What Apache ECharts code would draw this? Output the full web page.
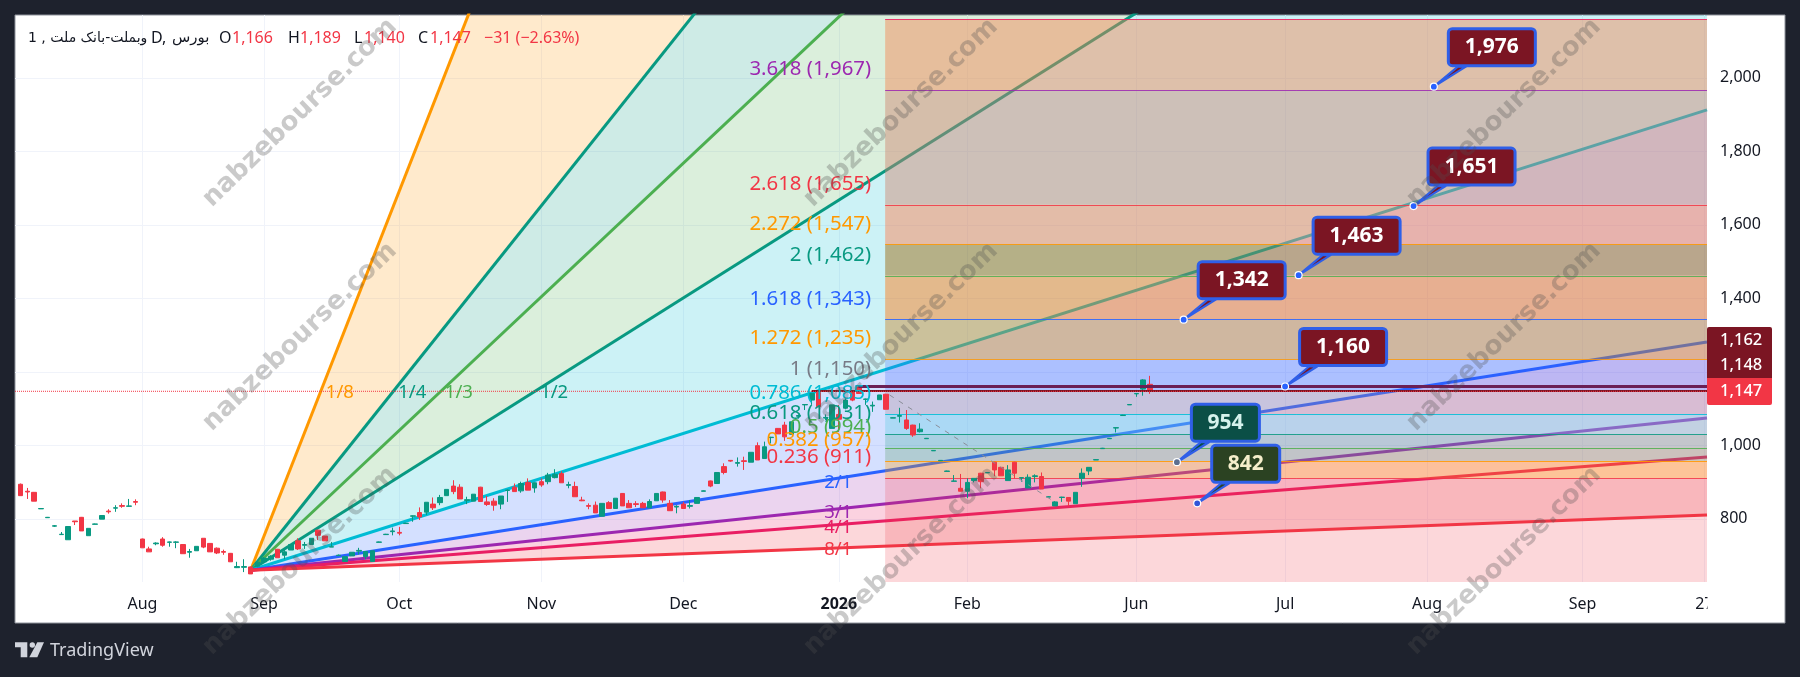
<!DOCTYPE html>
<html>
<head>
<meta charset="utf-8">
<title>وبملت-بانک ملت</title>
<style>html,body{margin:0;padding:0;background:#1e222d}#chart{width:1800px;height:677px}</style>
<script src="https://cdn.jsdelivr.net/npm/echarts@6/dist/echarts.min.js"></script>
</head>
<body>
<div id="chart"></div>
<script>
// Daily candles: open, close, low, high. The bar number is the position in this list.
const candles = [
[894,863,863,896],[875,873,854,884],[872,848,848,873],[827,828,827,829],[803,804,803,805],[780,781,778,783],
[757,758,756,764],[743,779,743,779],[794,792,783,794],[804,767,767,805],[754,774,754,774],[785,786,785,787],
[799,809,799,810],[821,819,814,826],[829,830,819,837],[836,834,830,842],[834,835,833,854],[847,845,837,853],
[745,721,721,746],[718,710,710,724],[732,734,728,736],[745,728,724,750],[736,737,724,738],[736,737,720,739],
[730,705,705,731],[709,711,694,718],[713,725,713,725],[747,723,720,747],[733,710,710,733],[720,707,704,722],
[711,709,702,716],[706,683,683,707],[667,670,666,683],[668,670,655,690],[669,650,650,670],[671,682,668,684],
[683,693,680,696],[690,698,686,701],[717,694,694,718],[701,710,690,718],[715,730,715,730],[740,718,715,747],
[728,730,718,737],[730,747,730,747],[769,755,742,770],[753,740,740,753],[723,724,723,737],[700,701,699,703],
[684,697,684,697],[699,709,699,709],[712,714,703,721],[697,711,690,711],[684,713,684,713],[736,737,736,738],
[757,758,757,759],[765,767,755,776],[763,761,755,778],[787,788,787,789],[807,808,792,809],[817,805,797,831],
[818,845,810,845],[840,830,824,858],[844,858,837,865],[863,880,863,880],[889,874,867,905],[886,854,854,894],
[850,852,840,860],[848,867,848,867],[886,847,847,887],[846,839,835,862],[848,837,822,856],[840,862,826,862],
[877,878,846,880],[886,874,874,896],[876,896,871,901],[899,878,878,910],[884,898,871,899],[901,892,887,910],
[901,919,894,925],[912,921,910,935],[923,898,898,929],[891,893,883,901],[888,860,860,901],[851,849,848,860],
[836,834,826,842],[837,816,816,847],[807,842,807,842],[844,828,828,848],[828,856,828,856],[869,835,835,870],
[842,830,830,851],[841,839,832,848],[842,830,830,846],[830,847,830,853],[849,869,849,869],[873,851,844,874],
[842,822,822,851],[832,834,815,837],[840,828,828,846],[834,836,828,851],[842,858,842,858],[875,876,875,877],
[903,889,886,904],[896,926,896,926],[942,926,921,951],[959,957,955,960],[951,953,942,967],[958,956,933,969],
[954,981,954,981],[999,960,960,1008],[964,996,964,1010],[1021,1022,1005,1023],[1046,1031,1031,1047],[1055,1023,1012,1064],
[1030,1064,1030,1064],[1079,1081,1073,1084],[1110,1111,1096,1112],[1123,1141,1110,1141],[1144,1105,1105,1150],[1074,1076,1069,1084],
[1046,1110,1046,1110],[1084,1071,1036,1110],[1101,1123,1098,1128],[1145,1123,1120,1150],[1159,1141,1141,1164],[1125,1126,1110,1127],
[1107,1109,1091,1119],[1124,1137,1124,1137],[1139,1098,1098,1140],[1074,1075,1074,1076],[1079,1081,1062,1102],[1069,1046,1042,1096],
[1055,1028,1023,1056],[1037,1044,1035,1060],[1018,1019,1018,1020],[985,986,985,987],[958,959,958,960],[929,930,929,931],
[902,903,901,919],[883,875,875,922],[875,899,856,910],[904,910,899,910],[924,901,883,925],[925,926,925,927],
[954,933,916,955],[940,917,917,941],[904,933,904,946],[954,924,910,955],[911,912,901,913],[884,913,884,921],
[915,917,899,921],[915,881,881,926],[859,860,859,861],[835,846,835,848],[858,859,846,860],[858,848,835,859],
[841,872,841,872],[910,924,887,937],[930,940,919,940],[960,961,960,962],[991,992,991,993],[1018,1019,1018,1020],
[1047,1048,1035,1049],[1081,1082,1081,1083],[1110,1111,1110,1112],[1140,1141,1132,1142],[1153,1178,1135,1180],[1166,1147,1140,1189]
];

// Time axis ticks: bar number and label.
const timeTickBars = [18,36,56,77,98,121,140,165,187,208,231,249];
const timeTickLabels = ['Aug','Sep','Oct','Nov','Dec','2026','Feb','Jun','Jul','Aug','Sep','27'];
// Price axis ticks.
const priceGridValues = [800,1000,1200,1400,1600,1800,2000];
const priceTickLabels = [800,1000,1400,1600,1800,2000];

// Gann fan: anchor, and the price each ray reaches at the right edge.
const fanAnchorBar = 34;
const fanAnchorPrice = 660;
const fanEndBar = 249.4;
const fanNames = ['1/8','1/4','1/3','1/2','1/1','2/1','3/1','4/1','8/1'];
const fanEndPrices = [10768,5629,4388,3154,1913,1281,1074,968,810];
const fanLabelNames = ['1/8','1/4','1/3','1/2','2/1','3/1','4/1','8/1'];
const fanLabelBars = [47.2,57.9,64.8,78.9,120.9,120.9,120.9,120.9];
const fanLabelPrices = [1142,1142,1142,1142,897,817,775,715];

// Fibonacci extension levels, top to bottom.
const fibRatios = ['4.236','3.618','2.618','2.272','2','1.618','1.272','1','0.786','0.618','0.5','0.382','0.236'];
const fibPrices = [2160,1967,1655,1547,1462,1343,1235,1150,1085,1031,994,957,911];
const fibStartBar = 127.85;

// Price lines and the dashed projection path.
const lastClose = 1147;
const upperLinePrice = 1160;
const upperLineStartBar = 123.9;
const closeLineStartBar = 117;
const projectionBars = [128.5,153];
const projectionPrices = [1137,845];

// Callouts on the chart.
const calloutBars = [209,206,189,172,187,171,174];
const calloutPrices = [1976,1651,1463,1342,1160,954,842];
const calloutKinds = [0,0,0,0,0,1,2];

// Tags on the price scale.
const priceTags = ['1,162','1,148','1,147'];

const axisMinBar = -0.843, axisMaxBar = 249.4, axisMinPrice = 628, axisMaxPrice = 2171;

const fontUI = '"Noto Sans", sans-serif';
const RED = '#f23645', TEAL = '#089981', ORANGE = '#ff9800', GREEN = '#4caf50',
      CYAN = '#00bcd4', BLUE = '#2962ff', PURPLE = '#9c27b0', PINK = '#e91e63', GRAY = '#787b86';

const fanLineColors = [ORANGE,TEAL,GREEN,TEAL,CYAN,BLUE,PURPLE,PINK,RED];
const fanFillColors = ['rgba(255,152,0,.2)','rgba(8,153,129,.2)','rgba(76,175,80,.2)','rgba(0,188,212,.2)',
  'rgba(41,98,255,.2)','rgba(156,39,176,.2)','rgba(233,30,99,.2)','rgba(242,54,69,.2)'];
const fanLabelColors = [ORANGE,TEAL,GREEN,TEAL,BLUE,PURPLE,PINK,RED];
const fibLineColors = [PINK,PURPLE,RED,ORANGE,GREEN,BLUE,ORANGE,GRAY,CYAN,TEAL,GREEN,ORANGE,RED];
const fibLabelColors = [PINK,PURPLE,RED,ORANGE,TEAL,BLUE,ORANGE,GRAY,CYAN,TEAL,GREEN,ORANGE,RED];
const fibBandColors = ['rgba(244,131,78,.45)','rgba(207,131,109,.45)','rgba(255,122,73,.45)','rgba(153,95,0,.45)',
  'rgba(255,115,11,.45)','rgba(202,133,44,.45)','rgba(52,96,255,.25)','rgba(172,131,145,.3)','rgba(110,207,230,.4)',
  'rgba(68,172,159,.3)','rgba(97,160,110,.3)','rgba(255,152,0,.3)','rgba(242,54,69,.2)'];
const calloutFills = ['#7b1523','#0b4f46','#2b4222'];
const calloutTextColors = ['#ffffff','#d5f2ec','#f5eecb'];
const calloutDotColors = ['#2962ff','#5c6f90','#2f55d8'];

const fmt = v => v.toLocaleString('en-US');

const fanLineSeries = fanEndPrices.map((p, i) => ({
  type: 'line', z: 2, silent: true, showSymbol: false, animation: false, clip: true,
  data: [[fanAnchorBar, fanAnchorPrice], [fanEndBar, p]],
  lineStyle: { color: fanLineColors[i], width: 3 }
}));

function flatLine(bar0, price, color, width, type, z) {
  return { type: 'line', z, silent: true, showSymbol: false, animation: false,
    data: [[bar0, price], [axisMaxBar, price]], lineStyle: { color, width, type } };
}

const option = {
  animation: false,
  backgroundColor: '#1e222d',
  grid: { left: 15, top: 15, width: 1692, height: 567, containLabel: false },
  xAxis: {
    type: 'value', min: axisMinBar, max: axisMaxBar,
    axisLine: { show: false },
    axisTick: { show: false, customValues: timeTickBars },
    splitLine: { show: true, lineStyle: { color: '#f0f3fa', width: 1 } },
    axisLabel: {
      customValues: timeTickBars, margin: 14, fontFamily: fontUI, fontSize: 16, color: '#131722',
      hideOverlap: false, showMinLabel: true, showMaxLabel: true,
      formatter: v => {
        const t = timeTickLabels[timeTickBars.indexOf(v)] || '';
        return t === '2026' ? '{y|2026}' : t;
      },
      rich: { y: { fontFamily: fontUI, fontSize: 16, fontWeight: 700, color: '#131722' } }
    }
  },
  yAxis: {
    type: 'value', position: 'right', min: axisMinPrice, max: axisMaxPrice,
    axisLine: { show: false },
    axisTick: { show: false, customValues: priceGridValues },
    splitLine: { show: true, lineStyle: { color: '#f0f3fa', width: 1 } },
    axisLabel: {
      customValues: priceTickLabels, margin: 13, fontFamily: fontUI, fontSize: 16, color: '#131722',
      formatter: v => fmt(v)
    }
  },
  graphic: { elements: [] },
  series: [
    // fan wedges between neighbouring rays
    { type: 'custom', z: 1, silent: true, clip: true, animation: false,
      data: fanFillColors.map((c, i) => [i]),
      renderItem: (params, api) => {
        const i = params.dataIndex;
        const pts = [[fanAnchorBar, fanAnchorPrice], [fanEndBar, fanEndPrices[i]], [fanEndBar, fanEndPrices[i + 1]]].map(p => api.coord(p));
        return { type: 'polygon', shape: { points: pts }, style: { fill: fanFillColors[i] } };
      } },
    ...fanLineSeries,
    // Fibonacci bands, last one runs to the bottom of the pane
    { type: 'custom', z: 3, silent: true, clip: true, animation: false,
      data: fibPrices.map((p, i) => [i]),
      renderItem: (params, api) => {
        const i = params.dataIndex;
        const a = api.coord([fibStartBar, fibPrices[i]]);
        const next = i + 1 < fibPrices.length ? fibPrices[i + 1] : axisMinPrice;
        const b = api.coord([axisMaxBar, next]);
        return { type: 'rect', shape: { x: a[0], y: a[1], width: b[0] - a[0], height: b[1] - a[1] }, style: { fill: fibBandColors[i] } };
      } },
    // level lines
    { type: 'custom', z: 4, silent: true, clip: true, animation: false,
      data: fibPrices.map((p, i) => [i]),
      renderItem: (params, api) => {
        const i = params.dataIndex;
        const a = api.coord([fibStartBar, fibPrices[i]]);
        const b = api.coord([axisMaxBar, fibPrices[i]]);
        const y = Math.round(a[1]) + 0.5;
        return { type: 'line', shape: { x1: a[0], y1: y, x2: b[0], y2: y }, style: { stroke: fibLineColors[i], lineWidth: 1, opacity: 0.85 } };
      } },
    // candles
    { type: 'candlestick', z: 5, silent: true, animation: false, barWidth: 5,
      data: candles.map((r, i) => [i, r[0], r[1], r[2], r[3]]),
      encode: { x: 0, y: [1, 2, 3, 4] },
      itemStyle: { color: TEAL, color0: RED, borderColor: TEAL, borderColor0: RED, borderColorDoji: null, borderWidth: 1 } },
    // projection path
    { type: 'line', z: 6, silent: true, showSymbol: false, animation: false,
      data: projectionBars.map((b, i) => [b, projectionPrices[i]]),
      lineStyle: { color: '#8a8e99', width: 1, type: [5, 6] } },
    flatLine(upperLineStartBar, upperLinePrice, '#6b1f55', 3, 'solid', 6),
    flatLine(closeLineStartBar, lastClose + 1, '#7b1523', 2, 'solid', 6),
    flatLine(axisMinBar, lastClose, RED, 1, 'dotted', 6),
    // Fibonacci level captions, right aligned against the start of the bands
    { type: 'custom', z: 7, silent: true, clip: false, animation: false,
      data: fibPrices.map((p, i) => [i]),
      renderItem: (params, api) => {
        const i = params.dataIndex;
        if (i === 0) return null;
        const a = api.coord([fibStartBar, fibPrices[i]]);
        return { type: 'text', style: { x: a[0] - 14, y: a[1] - 20.5, text: fibRatios[i] + ' (' + fmt(fibPrices[i]) + ')',
          align: 'right', verticalAlign: 'middle', fill: fibLabelColors[i], font: '20.4px ' + fontUI } };
      } },
    // fan ray captions
    { type: 'custom', z: 7, silent: true, clip: false, animation: false,
      data: fanLabelNames.map((n, i) => [i]),
      renderItem: (params, api) => {
        const i = params.dataIndex;
        const a = api.coord([fanLabelBars[i], fanLabelPrices[i]]);
        return { type: 'text', style: { x: a[0], y: a[1], text: fanLabelNames[i], align: 'center', verticalAlign: 'middle',
          fill: fanLabelColors[i], font: '18.5px ' + fontUI } };
      } },
    // value callouts
    { type: 'custom', z: 8, silent: true, clip: false, animation: false,
      data: calloutPrices.map((p, i) => [i]),
      renderItem: (params, api) => {
        const i = params.dataIndex;
        const kind = calloutKinds[i];
        const p = api.coord([calloutBars[i], calloutPrices[i]]);
        const text = fmt(calloutPrices[i]);
        const w = text.length > 3 ? 87 : 68, h = 37;
        const left = p[0] + 14.5, bottom = p[1] - 21;
        return { type: 'group', children: [
          { type: 'polygon', shape: { points: [p, [p[0] + 24, bottom + 1], [p[0] + 32, bottom + 1]] },
            style: { fill: calloutFills[kind], stroke: '#2f5fe8', lineWidth: 2.2, lineJoin: 'round' } },
          { type: 'rect', shape: { x: left, y: bottom - h, width: w, height: h, r: 4 },
            style: { fill: calloutFills[kind], stroke: '#2f5fe8', lineWidth: 3 } },
          { type: 'text', style: { x: left + w / 2, y: bottom - h / 2, text, align: 'center', verticalAlign: 'middle',
              fill: calloutTextColors[kind], font: 'bold 21px ' + fontUI } },
          { type: 'circle', shape: { cx: p[0], cy: p[1], r: 3.5 }, style: { fill: calloutDotColors[kind], stroke: '#ffffff', lineWidth: 1.2 } }
        ] };
      } }
  ]
};

// Panel, price tags, header, branding and the diagonal site marks.
const g = option.graphic.elements;
g.push({ type: 'rect', z: -1, silent: true, shape: { x: 15, y: 15, width: 1770, height: 608 },
  style: { fill: '#ffffff', stroke: '#8f939c', lineWidth: 1 } });
g.push({ type: 'rect', z: 9, silent: true, shape: { x: 1707.5, y: 585, width: 76, height: 37 }, style: { fill: '#ffffff' } });

const tagTops = [327, 353, 378], tagHeights = [26, 25, 27], tagFills = ['#7b1523', '#7b1523', RED];
priceTags.forEach((t, i) => {
  g.push({ type: 'rect', z: 9, silent: true, shape: { x: 1707, y: tagTops[i], width: 65, height: tagHeights[i], r: i === 0 ? [2, 2, 0, 0] : i === 2 ? [0, 0, 2, 2] : 0 },
    style: { fill: tagFills[i] } });
  g.push({ type: 'text', z: 10, silent: true, style: { x: 1720, y: tagTops[i] + tagHeights[i] / 2, text: t,
    verticalAlign: 'middle', fill: '#fff', font: '500 16.5px ' + fontUI } });
});

const headerParts = [
  [28, '1 , وبملت-بانک ملت', '#131722', '14px "DejaVu Sans"'],
  [151, 'D,', '#131722', '16px ' + fontUI],
  [172, 'بورس', '#131722', '15px "DejaVu Sans"'],
  [219, 'O', '#131722', '16px ' + fontUI], [232, '1,166', RED, '16px ' + fontUI],
  [288, 'H', '#131722', '16px ' + fontUI], [300, '1,189', RED, '16px ' + fontUI],
  [354, 'L', '#131722', '16px ' + fontUI], [364, '1,140', RED, '16px ' + fontUI],
  [418, 'C', '#131722', '16px ' + fontUI], [430, '1,147', RED, '16px ' + fontUI],
  [484, '−31 (−2.63%)', RED, '16px ' + fontUI]
];
headerParts.forEach(h => g.push({ type: 'text', z: 15, silent: true,
  style: { x: h[0], y: 38, text: h[1], fill: h[2], font: h[3], verticalAlign: 'middle' } }));

const markX = [300, 901, 1504], markY = [113, 337, 561];
markX.forEach(x => markY.forEach(y => g.push({ type: 'text', z: 20, silent: true, x, y, rotation: 44 * Math.PI / 180,
  style: { x: 0, y: 0, text: 'nabzebourse.com', align: 'center', verticalAlign: 'middle',
    fill: 'rgba(80,80,80,.3)', font: 'bold 26px "DejaVu Sans"' } })));

const logoColor = '#d1d4dc';
g.push({ type: 'polygon', z: 15, silent: true, shape: { points: [[15,642.3],[27.3,642.3],[27.3,657.3],[20.7,657.3],[20.7,647.3],[15,647.3]] }, style: { fill: logoColor } });
g.push({ type: 'circle', z: 15, silent: true, shape: { cx: 32.3, cy: 645, r: 2.7 }, style: { fill: logoColor } });
g.push({ type: 'polygon', z: 15, silent: true, shape: { points: [[37.3,642.3],[44,642.3],[37.3,657.3],[29.3,657.3]] }, style: { fill: logoColor } });
g.push({ type: 'text', z: 15, silent: true, style: { x: 50, y: 651, text: 'TradingView', verticalAlign: 'middle', fill: logoColor, font: '18px ' + fontUI } });

const chart = echarts.init(document.getElementById('chart'), null, { renderer: 'canvas', width: 1800, height: 677 });
chart.setOption(option);
</script>
</body>
</html>
